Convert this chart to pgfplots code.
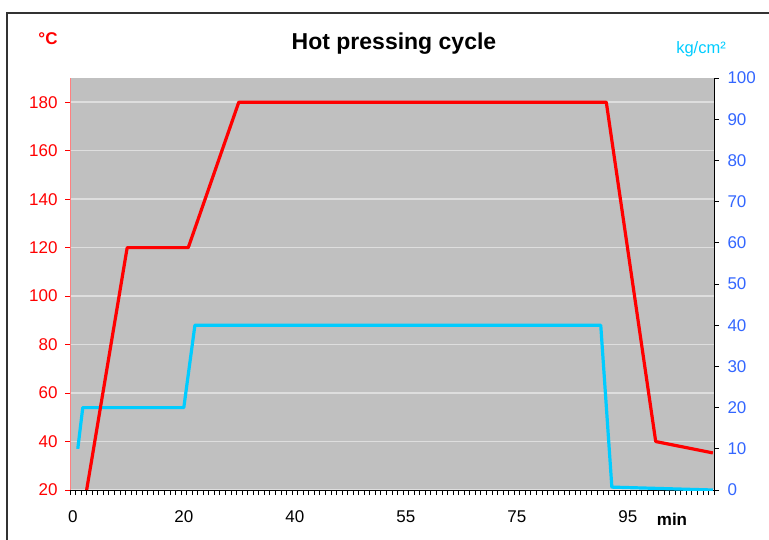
\documentclass[border=0pt]{standalone}
\usepackage{fontspec}
\setmainfont{Liberation Sans}
\usepackage{pgfplots}
\pgfplotsset{compat=1.18}

\definecolor{tempred}{HTML}{FF0000}
\definecolor{presscyan}{HTML}{00CCFF}
\definecolor{plotgray}{HTML}{C0C0C0}
\definecolor{gridgray}{HTML}{DEDEDE}
\definecolor{ticksblue}{HTML}{3366FF}
\definecolor{axisred}{HTML}{FF8080}

\pgfplotsset{
  cycle/.style={
    scale only axis, width=644pt, height=412pt,
    at={(70pt,49pt)}, anchor=south west,
    xmin=-0.5, xmax=115.5,
    /pgf/number format/assume math mode=true,
    tick label style={font=\fontsize{17}{20}\selectfont},
    tick align=outside, major tick length=5pt, minor tick length=5pt,
  }
}

\begin{document}
\begin{tikzpicture}
% left scale: background, grid, red axis, bottom axis
\begin{axis}[cycle,
  ymin=20, ymax=190,
  axis x line*=bottom, axis y line*=left,
  x axis line style={black, line width=0.8pt},
  y axis line style={axisred, line width=0.8pt},
  axis background/.style={fill=plotgray},
  ymajorgrids, grid style={gridgray, line width=1.5pt},
  ytick={20,40,...,180},
  y tick label style={tempred, xshift=-4pt},
  ytick style={tempred, line width=0.8pt},
  xtick={0,20,40,60,80,100},
  xticklabels={0,20,40,55,75,95},
  x tick label style={yshift=-12pt},
  major x tick style={draw=none},
  minor xtick={-0.5,0.5,...,115.5},
  minor x tick style={black, line width=0.8pt},
]
\end{axis}
% right scale: pressure
\begin{axis}[cycle,
  ymin=0, ymax=100,
  axis y line*=right, axis x line=none,
  y axis line style={black, line width=0.8pt},
  ytick={0,10,...,100},
  y tick label style={ticksblue, xshift=5pt},
  ytick style={black, line width=0.8pt},
]
\addplot[presscyan, line width=3.2pt, line join=round] coordinates {
  (0.9,10) (1.8,20) (20,20) (22,40) (95.1,40) (97.1,0.7) (115.3,0)
};
\end{axis}
% left scale again: temperature on top
\begin{axis}[cycle, ymin=20, ymax=190, hide axis]
\addplot[tempred, line width=3.2pt, line join=round] coordinates {
  (2.5,20) (9.8,120) (20.8,120) (29.9,180) (96.1,180) (105,40) (115.3,35.3)
};
\end{axis}

\node[font=\fontsize{23}{27}\selectfont\bfseries] at (394pt,495pt) {Hot pressing cycle};
\node[font=\fontsize{17}{20}\selectfont\bfseries, text=tempred] at (48pt,500pt) {°C};
\node[font=\fontsize{16.5}{20}\selectfont, text=presscyan] at (701pt,490pt) {kg/cm²};
\node[font=\fontsize{17}{20}\selectfont\bfseries] at (672pt,20pt) {min};

\draw[black!80, line width=1.2pt] (7pt,-2pt) -- (7pt,526pt) -- (771pt,526pt);

\pgfresetboundingbox
\path[use as bounding box] (0,0) rectangle (769pt,539pt);
\end{tikzpicture}
\end{document}
